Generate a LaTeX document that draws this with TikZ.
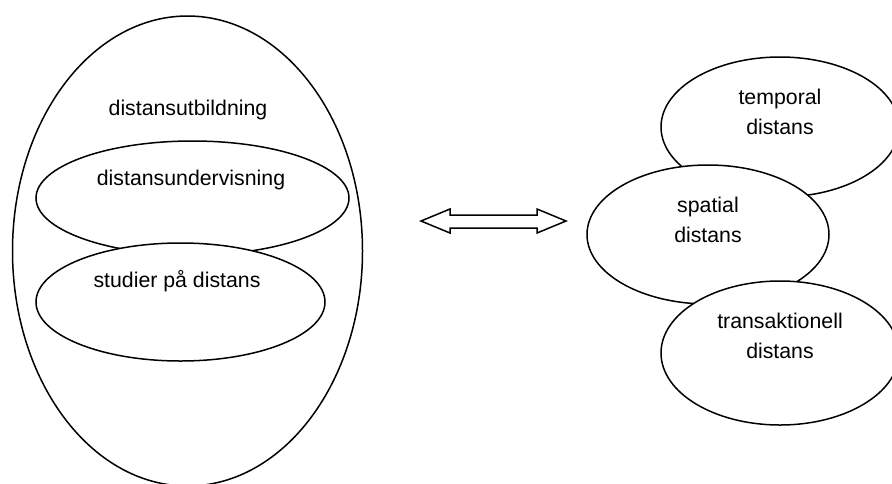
\documentclass[tikz,border=0pt]{standalone}
\usepackage{fontspec}
\setmainfont{Liberation Sans}
\usetikzlibrary{shapes.geometric}
\begin{document}
\begin{tikzpicture}[x=1pt,y=-1pt,
  blob/.style={ellipse, draw, fill=white, line width=1.5pt, inner sep=0pt},
  lbl/.style={font=\fontsize{21.3}{29.5}\selectfont, align=center, inner sep=0pt, anchor=base},
  blockarrow/.style={draw, fill=white, line width=1.5pt, line join=miter}]
\useasboundingbox (0,0) rectangle (892,483);
\clip (0,0) rectangle (892,483);

% left group: nested concepts
\node[blob, minimum width=350pt, minimum height=470pt] (utb) at (187.5,251) {};
\node[blob, minimum width=313pt, minimum height=114pt] (und) at (192.5,198) {};
\node[blob, minimum width=289pt, minimum height=118pt] (stu) at (180.5,302) {};
\node[lbl] (utbtext) at (188,115) {distansutbildning};
\node[lbl] (undtext) at (191,185) {distansundervisning};
\node[lbl] (stutext) at (177,287) {studier på distans};

% right group: three kinds of distance (base anchor = last line)
\node[blob, minimum width=238pt, minimum height=140pt] (tem) at (780,127) {};
\node[blob, minimum width=242pt, minimum height=139pt] (spa) at (708,234.5) {};
\node[blob, minimum width=238pt, minimum height=144pt] (tra) at (780,353) {};
\node[lbl] (temtext) at (780,134) {temporal\\distans};
\node[lbl] (spatext) at (708,242) {spatial\\distans};
\node[lbl] (tratext) at (780,358) {transaktionell\\distans};

% two-headed block arrow between the groups
\draw[blockarrow] (421,221) -- (450,209) -- (450,215) -- (537,215) -- (537,209)
  -- (566,221) -- (537,233) -- (537,228) -- (450,228) -- (450,233) -- cycle;
\end{tikzpicture}
\end{document}
